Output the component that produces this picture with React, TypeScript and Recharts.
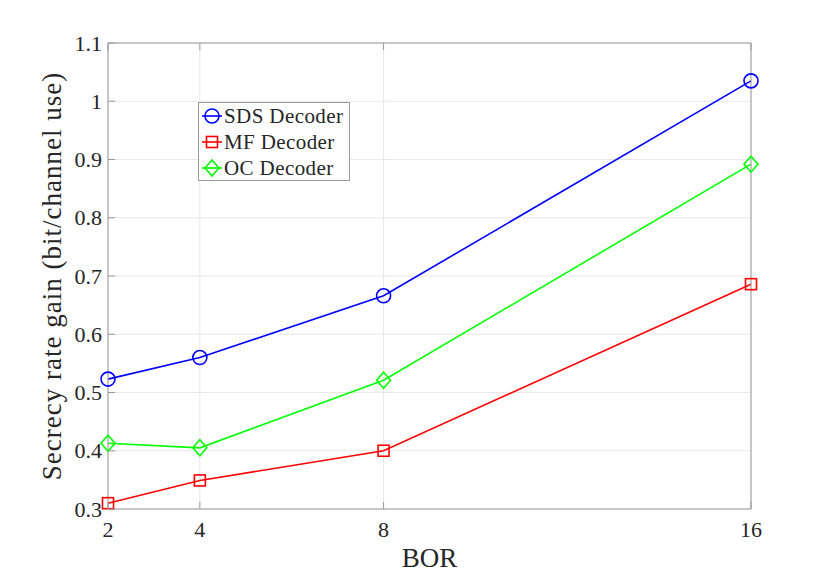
import { LineChart, Line, XAxis, YAxis, CartesianGrid } from "recharts";

const bor = [2, 4, 8, 16];
const sdsGain = [0.523, 0.56, 0.666, 1.035];
const mfGain = [0.31, 0.349, 0.4, 0.686];
const ocGain = [0.413, 0.405, 0.521, 0.892];
const xTicks = [2, 4, 8, 16];
const yTicks = [0.3, 0.4, 0.5, 0.6, 0.7, 0.8, 0.9, 1.0, 1.1];

const data = bor.map((b, i) => ({
  bor: b,
  sds: sdsGain[i],
  mf: mfGain[i],
  oc: ocGain[i],
}));

const FONT = "'Liberation Serif', 'DejaVu Serif', serif";
const BOX = "#9a9a9a";
const TXT = "#262626";
const TICK = 7;

const fmt = (v: number) => String(Number(v.toFixed(1)));

const BottomTick = ({ x, y, payload }: any) => (
  <g>
    <line x1={x} x2={x} y1={y} y2={y - TICK} stroke={BOX} />
    <text x={x} y={y + 28} textAnchor="middle" fill={TXT} fontSize={22} fontFamily={FONT}>
      {payload.value}
    </text>
  </g>
);
const TopTick = ({ x, y }: any) => (
  <line x1={x} x2={x} y1={y} y2={y + TICK} stroke={BOX} />
);
const LeftTick = ({ x, y, payload }: any) => (
  <g>
    <line x1={x} x2={x + TICK} y1={y} y2={y} stroke={BOX} />
    <text x={x - 6} y={y + 7.5} textAnchor="end" fill={TXT} fontSize={22} fontFamily={FONT}>
      {fmt(payload.value)}
    </text>
  </g>
);
const RightTick = ({ x, y }: any) => (
  <line x1={x} x2={x - TICK} y1={y} y2={y} stroke={BOX} />
);

const YLabel = ({ viewBox }: any) => {
  const x = viewBox.x + 44;
  const y = viewBox.y + viewBox.height / 2;
  return (
    <text
      x={x}
      y={y}
      transform={`rotate(-90, ${x}, ${y})`}
      textAnchor="middle"
      dominantBaseline="central"
      fill={TXT}
      fontSize={27}
      letterSpacing={1}
      fontFamily={FONT}
    >
      Secrecy rate gain (bit/channel use)
    </text>
  );
};
const XLabel = ({ viewBox }: any) => (
  <text
    x={viewBox.x + viewBox.width / 2}
    y={viewBox.y + 58}
    textAnchor="middle"
    fill={TXT}
    fontSize={27}
    fontFamily={FONT}
  >
    BOR
  </text>
);

const Circle = ({ cx, cy, stroke }: any) =>
  cx == null ? null : <circle cx={cx} cy={cy} r={7} fill="none" stroke={stroke} strokeWidth={1.6} />;
const Square = ({ cx, cy, stroke }: any) =>
  cx == null ? null : (
    <rect x={cx - 5.5} y={cy - 5.5} width={11} height={11} fill="none" stroke={stroke} strokeWidth={1.6} />
  );
const Diamond = ({ cx, cy, stroke }: any) =>
  cx == null ? null : (
    <polygon
      points={`${cx},${cy - 8} ${cx + 7},${cy} ${cx},${cy + 8} ${cx - 7},${cy}`}
      fill="none"
      stroke={stroke}
      strokeWidth={1.6}
    />
  );

const series = [
  { key: "sds", name: "SDS Decoder", color: "#0000ff", Marker: Circle },
  { key: "mf", name: "MF Decoder", color: "#ff0000", Marker: Square },
  { key: "oc", name: "OC Decoder", color: "#00ff00", Marker: Diamond },
];

const LegendBox = () => (
  <div
    style={{
      position: "absolute",
      left: 190,
      top: 94,
      width: 150,
      height: 77,
      boxSizing: "content-box",
      background: "#fff",
      border: `1px solid ${BOX}`,
      fontFamily: FONT,
      fontSize: 21,
      letterSpacing: 0.4,
      color: TXT,
    }}
  >
    {series.map(({ key, name, color, Marker }) => (
      <div key={key} style={{ display: "flex", alignItems: "center", height: 26 }}>
        <svg width={24} height={20} style={{ marginLeft: 1 }}>
          <line x1={2} x2={22} y1={10} y2={10} stroke={color} strokeWidth={1.6} />
          <Marker cx={12} cy={10} stroke={color} />
        </svg>
        <span>{name}</span>
      </div>
    ))}
  </div>
);

export default function App() {
  return (
    <div style={{ position: "relative", width: 814, height: 569, marginBottom: -8 }}>
      <LineChart
        width={814}
        height={569}
        data={data}
        margin={{ top: 34, right: 70, left: 0, bottom: 0 }}
        style={{ fontFamily: FONT }}
      >
        <CartesianGrid stroke="#e8e8e8" />
        <XAxis
          dataKey="bor"
          type="number"
          domain={[2, 16]}
          ticks={xTicks}
          tickSize={0}
          tickMargin={0}
          height={68}
          stroke={BOX}
          tick={<BottomTick />}
          label={<XLabel />}
        />
        <XAxis
          xAxisId="top"
          orientation="top"
          dataKey="bor"
          type="number"
          domain={[2, 16]}
          ticks={xTicks}
          tickSize={0}
          tickMargin={0}
          height={1}
          stroke={BOX}
          tick={<TopTick />}
        />
        <YAxis
          type="number"
          domain={[0.3, 1.1]}
          ticks={yTicks}
          tickSize={0}
          tickMargin={0}
          width={100}
          stroke={BOX}
          tick={<LeftTick />}
          label={<YLabel />}
        />
        <YAxis
          yAxisId="right"
          orientation="right"
          type="number"
          domain={[0.3, 1.1]}
          ticks={yTicks}
          tickSize={0}
          tickMargin={0}
          width={1}
          stroke={BOX}
          tick={<RightTick />}
        />
        {series.map(({ key, name, color, Marker }) => (
          <Line
            key={key}
            dataKey={key}
            name={name}
            stroke={color}
            strokeWidth={1.6}
            dot={<Marker stroke={color} />}
            activeDot={false}
            isAnimationActive={false}
          />
        ))}
      </LineChart>
      <LegendBox />
    </div>
  );
}
